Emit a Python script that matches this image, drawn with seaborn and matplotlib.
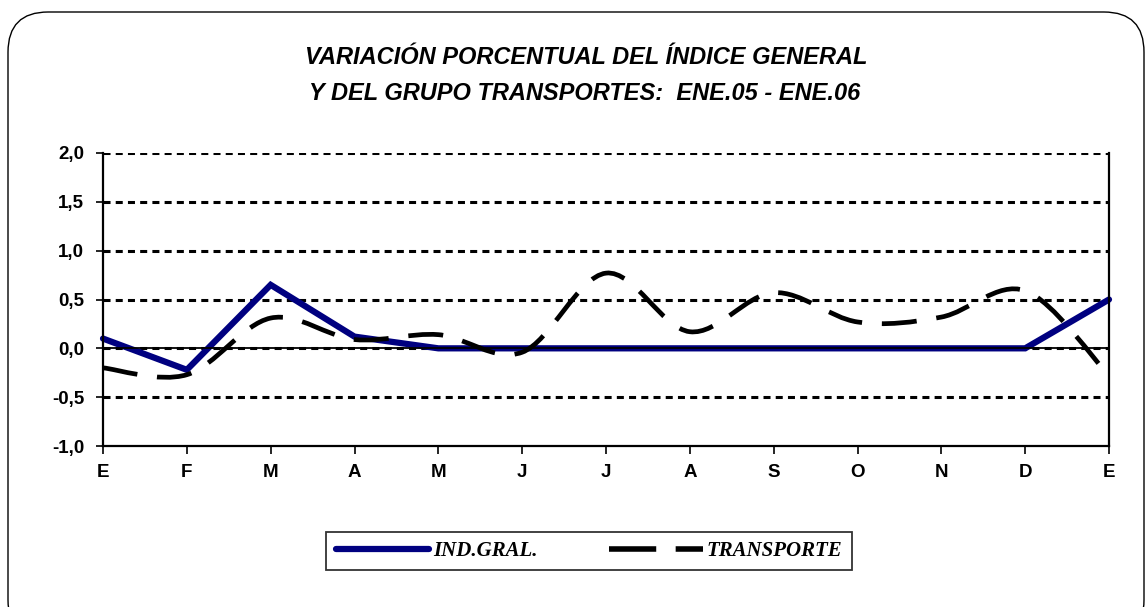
import numpy as np
import pandas as pd
import matplotlib
matplotlib.use("Agg")
import matplotlib.pyplot as plt
import seaborn as sns
from matplotlib.path import Path
from matplotlib.patches import PathPatch, FancyBboxPatch
from matplotlib.lines import Line2D

# ---- data ----
months = ["E", "F", "M", "A", "M", "J", "J", "A", "S", "O", "N", "D", "E"]
ind_gral = [0.10, -0.22, 0.65, 0.12, 0.0, 0.0, 0.0, 0.0, 0.0, 0.0, 0.0, 0.0, 0.50]
transporte = [-0.20, -0.27, 0.31, 0.09, 0.14, -0.04, 0.77, 0.17, 0.57, 0.27, 0.32, 0.59, -0.28]
yticks = [-1.0, -0.5, 0.0, 0.5, 1.0, 1.5, 2.0]
ytick_labels = ["-1,0", "-0,5", "0,0", "0,5", "1,0", "1,5", "2,0"]
title_lines = ["VARIACIÓN PORCENTUAL DEL ÍNDICE GENERAL",
               "Y DEL GRUPO TRANSPORTES:  ENE.05 - ENE.06"]
labels = ["IND.GRAL.", "TRANSPORTE"]

NAVY = "#000080"

sns.set_theme(style="white")
plt.rcParams["font.family"] = ["Liberation Sans", "DejaVu Sans"]
plt.rcParams["text.color"] = "black"
plt.rcParams["axes.labelcolor"] = "black"
plt.rcParams["xtick.color"] = "black"
plt.rcParams["ytick.color"] = "black"

W, H = 1147, 607
fig = plt.figure(figsize=(W / 100, H / 100), dpi=100)
fig.patch.set_facecolor("white")

# rounded outer border (pixel coords -> figure fraction)
bx0, by0, bx1, by1 = 8, 12, 1144, 640
border = FancyBboxPatch((bx0 / W, 1 - by1 / H), (bx1 - bx0) / W, (by1 - by0) / H,
                        boxstyle="round,pad=0,rounding_size=0.035",
                        transform=fig.transFigure, fill=False, edgecolor="black",
                        linewidth=1.0, mutation_aspect=W / H)
fig.patches.append(border)

ax_l, ax_r, ax_t, ax_b = 103, 1109, 153, 446
ax = fig.add_axes([ax_l / W, 1 - ax_b / H, (ax_r - ax_l) / W, (ax_b - ax_t) / H])
ax.set_facecolor("white")

df = pd.DataFrame({"pos": np.arange(len(months)), "mes": months,
                   "ind": ind_gral, "trans": transporte})

# gridlines
for yv in yticks[1:]:
    ax.axhline(yv, color="black", linewidth=2.2, linestyle=(0, (2.3, 1.7)), zorder=1)

# IND.GRAL. line
sns.lineplot(data=df, x="pos", y="ind", ax=ax, color=NAVY, linewidth=4.5,
             solid_capstyle="round", solid_joinstyle="miter", zorder=2, clip_on=False,
             legend=False)

# zero axis line
ax.axhline(0, color="black", linewidth=1.3, zorder=2.5)

# TRANSPORTE smoothed line (bezier through the data points, Excel-style smoothing)
pts = np.column_stack([df["pos"].to_numpy(float), df["trans"].to_numpy(float)])
n = len(pts)
verts = [tuple(pts[0])]
codes = [Path.MOVETO]
for i in range(n - 1):
    p0 = pts[max(i - 1, 0)]
    p1 = pts[i]
    p2 = pts[i + 1]
    p3 = pts[min(i + 2, n - 1)]
    c1 = p1 + (p2 - p0) / 6.0
    c2 = p2 - (p3 - p1) / 6.0
    verts += [tuple(c1), tuple(c2), tuple(p2)]
    codes += [Path.CURVE4] * 3
patch = PathPatch(Path(verts, codes), fill=False, edgecolor="black", linewidth=3.4,
                  linestyle=(0, (7.4, 4.2)), capstyle="butt", zorder=3, clip_on=False)
ax.add_patch(patch)

ax.set_xlim(0, len(months) - 1)
ax.set_ylim(-1.0, 2.0)
ax.set_xticks(df["pos"])
ax.set_xticklabels(months)
ax.set_yticks(yticks)
ax.set_yticklabels(ytick_labels)
ax.set_xlabel("")
ax.set_ylabel("")

for side in ["left", "bottom", "right"]:
    ax.spines[side].set_visible(True)
    ax.spines[side].set_color("black")
    ax.spines[side].set_linewidth(1.6)
ax.spines["top"].set_visible(False)

ax.tick_params(axis="y", which="major", direction="out", length=5, width=1.2,
               color="black", pad=8.5, left=True, labelsize=13.5, labelcolor="black")
ax.tick_params(axis="x", which="major", direction="out", length=6, width=1.2,
               color="black", pad=7, bottom=True, labelsize=13.5, labelcolor="black")
for lab in ax.get_xticklabels() + ax.get_yticklabels():
    lab.set_fontweight("bold")
    lab.set_family(["Liberation Sans", "DejaVu Sans"])

# title
fig.text(586 / W, 1 - 58 / H, title_lines[0],
         ha="center", va="center", fontsize=17, fontweight="bold", fontstyle="italic",
         color="black", family=["Liberation Sans", "DejaVu Sans"])
fig.text(585 / W, 1 - 93 / H, title_lines[1],
         ha="center", va="center", fontsize=17, fontweight="bold", fontstyle="italic",
         color="black", family=["Liberation Sans", "DejaVu Sans"])

# legend
handles = [Line2D([0], [0], color=NAVY, linewidth=4.5, solid_capstyle="round"),
           Line2D([0], [0], color="black", linewidth=4.0, linestyle=(0, (8.5, 3.5)),
                  dash_capstyle="butt")]
leg = fig.legend(handles, labels, loc="center", bbox_to_anchor=(589 / W, 1 - 551 / H),
                 ncol=2, frameon=True, fancybox=False, handlelength=4.5,
                 handletextpad=0.2, columnspacing=3.4, borderpad=0.45,
                 prop={"family": ["Liberation Serif", "DejaVu Serif"], "weight": "bold",
                       "style": "italic", "size": 15})
leg.get_frame().set_edgecolor("black")
leg.get_frame().set_linewidth(1.3)
for t in leg.get_texts():
    t.set_color("black")

fig.savefig("out.png", dpi=100, facecolor="white")
